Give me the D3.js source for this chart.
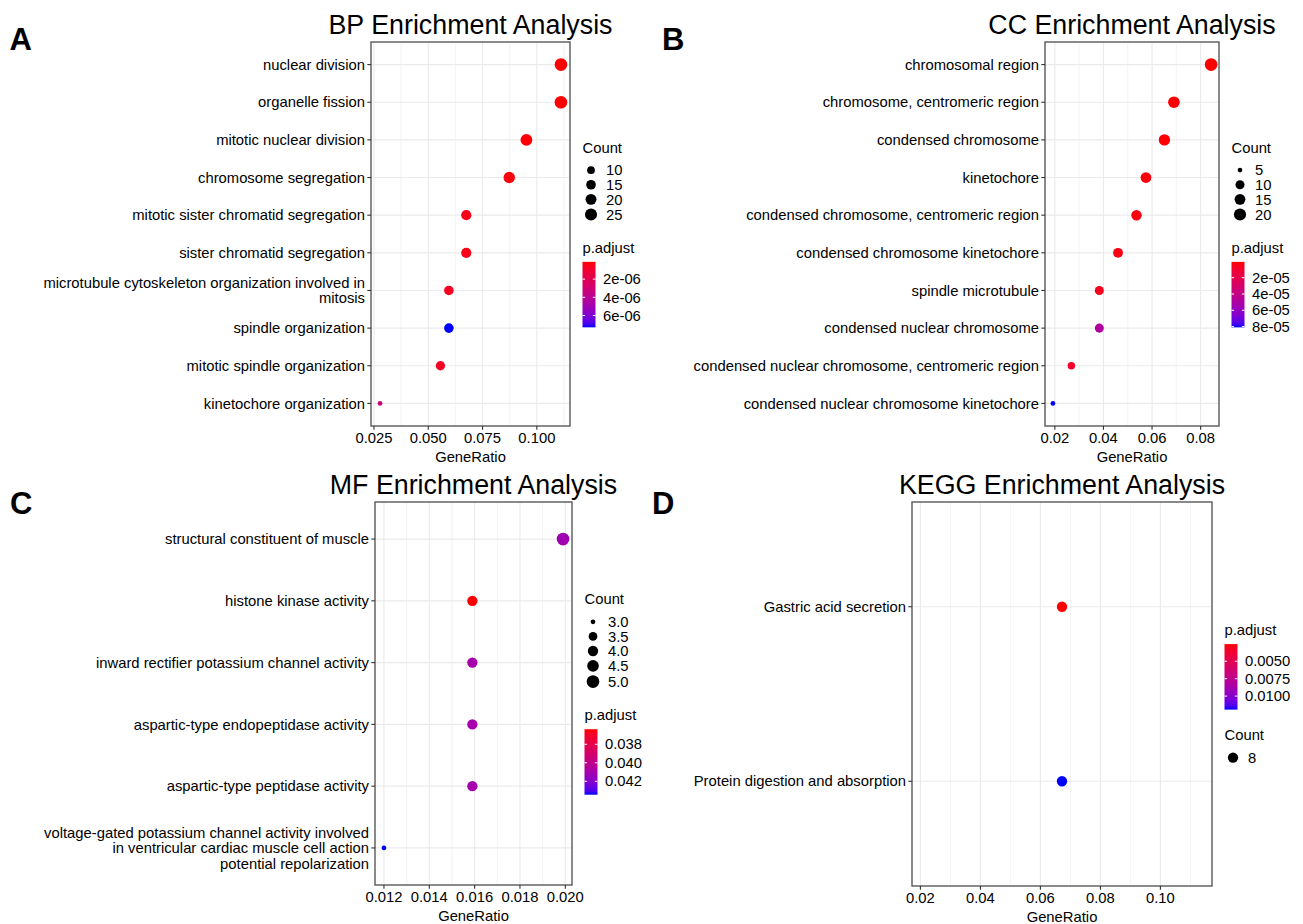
<!DOCTYPE html>
<html><head><meta charset="utf-8">
<script src="https://cdn.jsdelivr.net/npm/d3@7"></script>
<style>body{margin:0;background:#fff}</style>
</head><body>
<svg id="chart" width="1303" height="924"></svg>
<script>
// ---------------- DATA ----------------
const bpTerms = ["nuclear division","organelle fission","mitotic nuclear division","chromosome segregation","mitotic sister chromatid segregation","sister chromatid segregation","microtubule cytoskeleton organization involved in mitosis","spindle organization","mitotic spindle organization","kinetochore organization"];
const bpRatio = [0.1111,0.1111,0.0952,0.0873,0.0675,0.0675,0.0595,0.0595,0.0556,0.0278];
const bpCount = [28,28,24,22,17,17,15,15,14,7];
const bpPadj  = [1.0e-7,1.2e-7,1.6e-7,2.5e-7,4.0e-7,4.5e-7,6.0e-7,7.3e-6,7.0e-7,3.2e-6];
const bpRatioTicks = [0.025,0.05,0.075,0.1];
const bpCountBreaks = [10,15,20,25];
const bpPadjBreaks = [2e-6,4e-6,6e-6];
const bpPadjLabels = ["2e-06","4e-06","6e-06"];

const ccTerms = ["chromosomal region","chromosome, centromeric region","condensed chromosome","kinetochore","condensed chromosome, centromeric region","condensed chromosome kinetochore","spindle microtubule","condensed nuclear chromosome","condensed nuclear chromosome, centromeric region","condensed nuclear chromosome kinetochore"];
const ccRatio = [0.0843,0.0690,0.0651,0.0575,0.0536,0.0460,0.0383,0.0383,0.0268,0.0192];
const ccCount = [22,18,17,15,14,12,10,10,7,5];
const ccPadj  = [6.0e-7,1.0e-6,1.2e-6,2.0e-6,2.5e-6,3.5e-6,5.0e-6,4.9e-5,9.0e-6,8.1e-5];
const ccRatioTicks = [0.02,0.04,0.06,0.08];
const ccCountBreaks = [5,10,15,20];
const ccPadjBreaks = [2e-5,4e-5,6e-5,8e-5];
const ccPadjLabels = ["2e-05","4e-05","6e-05","8e-05"];

const mfTerms = ["structural constituent of muscle","histone kinase activity","inward rectifier potassium channel activity","aspartic-type endopeptidase activity","aspartic-type peptidase activity","voltage-gated potassium channel activity involved in ventricular cardiac muscle cell action potential repolarization"];
const mfRatio = [0.0199,0.0159,0.0159,0.0159,0.0159,0.0120];
const mfCount = [5,4,4,4,4,3];
const mfPadj  = [0.0412,0.03637,0.0410,0.0410,0.0410,0.04345];
const mfRatioTicks = [0.012,0.014,0.016,0.018,0.020];
const mfCountBreaks = [3.0,3.5,4.0,4.5,5.0];
const mfPadjBreaks = [0.038,0.040,0.042];
const mfPadjLabels = ["0.038","0.040","0.042"];

const keggTerms = ["Gastric acid secretion","Protein digestion and absorption"];
const keggRatio = [0.0672,0.0672];
const keggCount = [8,8];
const keggPadj  = [0.00254,0.01194];
const keggRatioTicks = [0.02,0.04,0.06,0.08,0.10];
const keggCountBreaks = [8];
const keggPadjBreaks = [0.005,0.0075,0.010];
const keggPadjLabels = ["0.0050","0.0075","0.0100"];

// ---------------- DRAWING ----------------
const svg = d3.select("#chart");
svg.append("rect").attr("width",1303).attr("height",924).attr("fill","#fff");
const FONT = "'Liberation Sans', Arial, Helvetica, sans-serif";
const FS = 14.8;
const defs = svg.append("defs");

function wrap(s, w){
  const words = s.split(" "); const lines = []; let cur = "";
  for (const wd of words){
    if (!cur) cur = wd;
    else if ((cur + " " + wd).length <= w) cur += " " + wd;
    else { lines.push(cur); cur = wd; }
  }
  if (cur) lines.push(cur);
  return lines;
}

let gid = 0;
function drawPanel(cfg){
  const g = svg.append("g");
  const {l, r, t, b} = cfg.box;
  const data = cfg.terms.map((term,i)=>({term, ratio:cfg.ratio[i], count:cfg.count[i], padj:cfg.padj[i]}));
  const ext = d3.extent(cfg.ratio);
  let dom;
  if (ext[1]-ext[0] < 1e-12) dom = [ext[0]-0.05, ext[1]+0.05];
  else { const pad = (ext[1]-ext[0])*0.05; dom = [ext[0]-pad, ext[1]+pad]; }
  const x = d3.scaleLinear().domain(dom).range([l, r]);
  const y = d3.scalePoint().domain(cfg.terms).range([t, b]).padding(0.6);

  const cext = d3.extent(cfg.count);
  const resc = v => (cext[1]-cext[0] < 1e-12) ? 0.5 : (v - cext[0])/(cext[1]-cext[0]);
  const sz = d3.scaleSqrt().domain([0,1]).range([3,8]).clamp(true);
  const rad = v => sz(resc(v)) * 0.79;

  const pext = d3.extent(cfg.padj);
  const col = d3.scaleLinear().domain(pext).range(["#FF0000","#0000FF"]).interpolate(d3.interpolateLab);

  const ticks = cfg.ticks;
  const step = ticks[1]-ticks[0];
  const minors = [];
  for (let k=-5; k<ticks.length+5; k++){
    const v = ticks[0] + (k+0.5)*step;
    if (v >= dom[0] && v <= dom[1]) minors.push(v);
  }
  g.selectAll(".minor").data(minors).join("line")
    .attr("x1", d=>x(d)).attr("x2", d=>x(d)).attr("y1", t).attr("y2", b)
    .attr("stroke","#EBEBEB").attr("stroke-width",0.6);
  g.selectAll(".majx").data(ticks).join("line")
    .attr("x1", d=>x(d)).attr("x2", d=>x(d)).attr("y1", t).attr("y2", b)
    .attr("stroke","#EBEBEB").attr("stroke-width",1.15);
  g.selectAll(".majy").data(cfg.terms).join("line")
    .attr("x1", l).attr("x2", r).attr("y1", d=>y(d)).attr("y2", d=>y(d))
    .attr("stroke","#EBEBEB").attr("stroke-width",1.15);

  g.selectAll(".pt").data(data).join("circle")
    .attr("cx", d=>x(d.ratio)).attr("cy", d=>y(d.term))
    .attr("r", d=>rad(d.count)).attr("fill", d=>col(d.padj));

  g.append("rect").attr("x",l).attr("y",t).attr("width",r-l).attr("height",b-t)
    .attr("fill","none").attr("stroke","#595959").attr("stroke-width",1.4);

  g.selectAll(".ty").data(cfg.terms).join("line")
    .attr("x1", l-3.7).attr("x2", l).attr("y1", d=>y(d)).attr("y2", d=>y(d))
    .attr("stroke","#333").attr("stroke-width",1.1);
  g.selectAll(".tx").data(ticks).join("line")
    .attr("x1", d=>x(d)).attr("x2", d=>x(d)).attr("y1", b).attr("y2", b+3.7)
    .attr("stroke","#333").attr("stroke-width",1.1);

  const LH = 15.6;
  cfg.terms.forEach(term=>{
    const lines = wrap(term, 50);
    const tx = g.append("text").attr("text-anchor","end")
      .attr("font-family",FONT).attr("font-size",FS).attr("fill","#000");
    lines.forEach((ln,i)=>{
      tx.append("tspan").attr("x", l-6)
        .attr("y", y(term) + 5.2 - (lines.length-1)*LH/2 + i*LH).text(ln);
    });
  });
  g.selectAll(".xl").data(ticks).join("text")
    .attr("x", d=>x(d)).attr("y", b+17).attr("text-anchor","middle")
    .attr("font-family",FONT).attr("font-size",FS).attr("fill","#000")
    .text(d=>d3.format(cfg.tickFmt)(d));
  g.append("text").attr("x",(l+r)/2).attr("y",b+36).attr("text-anchor","middle")
    .attr("font-family",FONT).attr("font-size",FS).attr("fill","#000").text("GeneRatio");
  g.append("text").attr("x",(l+r)/2).attr("y",t-8).attr("text-anchor","middle")
    .attr("font-family",FONT).attr("font-size",26.8).attr("fill","#000").text(cfg.title);
  g.append("text").attr("x",cfg.letterPos[0]).attr("y",cfg.letterPos[1])
    .attr("font-family",FONT).attr("font-size",31).attr("font-weight","bold").attr("fill","#000").text(cfg.letter);

  // ---------- legends ----------
  const lx = r + 12.5;
  const keyH = rv => Math.max(14.6, 2*rv + 3.6);
  const keys = cfg.countBreaks.map(v=>({v, r:rad(v)}));
  let acc = 29.5;
  keys.forEach((k,i)=>{
    if (i>0) acc += (keyH(keys[i-1].r) + keyH(k.r))/2;
    k.off = acc;
  });
  const sizeH = acc + keyH(keys[keys.length-1].r)/2;
  const colH = 86.5;
  const gap = 18.5;
  const total = sizeH + colH + gap;
  const top = (t+b)/2 - total/2;
  const sizeTop = cfg.colorFirst ? top + colH + gap : top;
  const colTop = cfg.colorFirst ? top : top + sizeH + gap;

  g.append("text").attr("x",lx).attr("y",sizeTop+12)
    .attr("font-family",FONT).attr("font-size",FS).attr("fill","#000").text("Count");
  g.selectAll(".sk").data(keys).join("circle")
    .attr("cx", lx+8.5).attr("cy", d=>sizeTop+d.off).attr("r", d=>d.r).attr("fill","#000");
  g.selectAll(".skl").data(keys).join("text")
    .attr("x", lx+23.5).attr("y", d=>sizeTop+d.off+5.2)
    .attr("font-family",FONT).attr("font-size",FS).attr("fill","#000")
    .text(d=>cfg.countFmt ? d3.format(cfg.countFmt)(d.v) : d.v);

  g.append("text").attr("x",lx).attr("y",colTop+12)
    .attr("font-family",FONT).attr("font-size",FS).attr("fill","#000").text("p.adjust");
  const barTop = colTop + 21, barH = 65.5, barW = 13;
  const id = "grad"+(gid++);
  const grad = defs.append("linearGradient").attr("id",id)
    .attr("x1","0").attr("y1","0").attr("x2","0").attr("y2","1");
  d3.range(0,1.0001,0.05).forEach(f=>{
    grad.append("stop").attr("offset",f)
      .attr("stop-color", col(pext[0] + f*(pext[1]-pext[0])));
  });
  g.append("rect").attr("x",lx).attr("y",barTop).attr("width",barW).attr("height",barH)
    .attr("fill","url(#"+id+")");
  const cy = d3.scaleLinear().domain(pext).range([barTop, barTop+barH]);
  cfg.padjBreaks.forEach((v,i)=>{
    const yy = cy(v);
    g.append("line").attr("x1",lx).attr("x2",lx+2.6).attr("y1",yy).attr("y2",yy)
      .attr("stroke","#fff").attr("stroke-width",1);
    g.append("line").attr("x1",lx+barW-2.6).attr("x2",lx+barW).attr("y1",yy).attr("y2",yy)
      .attr("stroke","#fff").attr("stroke-width",1);
    g.append("text").attr("x",lx+20.5).attr("y",yy+5.2)
      .attr("font-family",FONT).attr("font-size",FS).attr("fill","#000").text(cfg.padjLabels[i]);
  });
}

drawPanel({terms:bpTerms, ratio:bpRatio, count:bpCount, padj:bpPadj, ticks:bpRatioTicks, tickFmt:".3f",
  countBreaks:bpCountBreaks, padjBreaks:bpPadjBreaks, padjLabels:bpPadjLabels,
  box:{l:371,r:570,t:42,b:426}, title:"BP Enrichment Analysis", letter:"A", letterPos:[9.5,50], colorFirst:false});
drawPanel({terms:ccTerms, ratio:ccRatio, count:ccCount, padj:ccPadj, ticks:ccRatioTicks, tickFmt:".2f",
  countBreaks:ccCountBreaks, padjBreaks:ccPadjBreaks, padjLabels:ccPadjLabels,
  box:{l:1045,r:1219,t:42,b:426}, title:"CC Enrichment Analysis", letter:"B", letterPos:[662,50], colorFirst:false});
drawPanel({terms:mfTerms, ratio:mfRatio, count:mfCount, padj:mfPadj, ticks:mfRatioTicks, tickFmt:".3f",
  countBreaks:mfCountBreaks, countFmt:".1f", padjBreaks:mfPadjBreaks, padjLabels:mfPadjLabels,
  box:{l:375,r:572,t:502,b:885}, title:"MF Enrichment Analysis", letter:"C", letterPos:[10,514], colorFirst:false});
drawPanel({terms:keggTerms, ratio:keggRatio, count:keggCount, padj:keggPadj, ticks:keggRatioTicks, tickFmt:".2f",
  countBreaks:keggCountBreaks, padjBreaks:keggPadjBreaks, padjLabels:keggPadjLabels,
  box:{l:912,r:1212,t:502,b:886}, title:"KEGG Enrichment Analysis", letter:"D", letterPos:[652,514], colorFirst:true});
</script>
</body></html>
